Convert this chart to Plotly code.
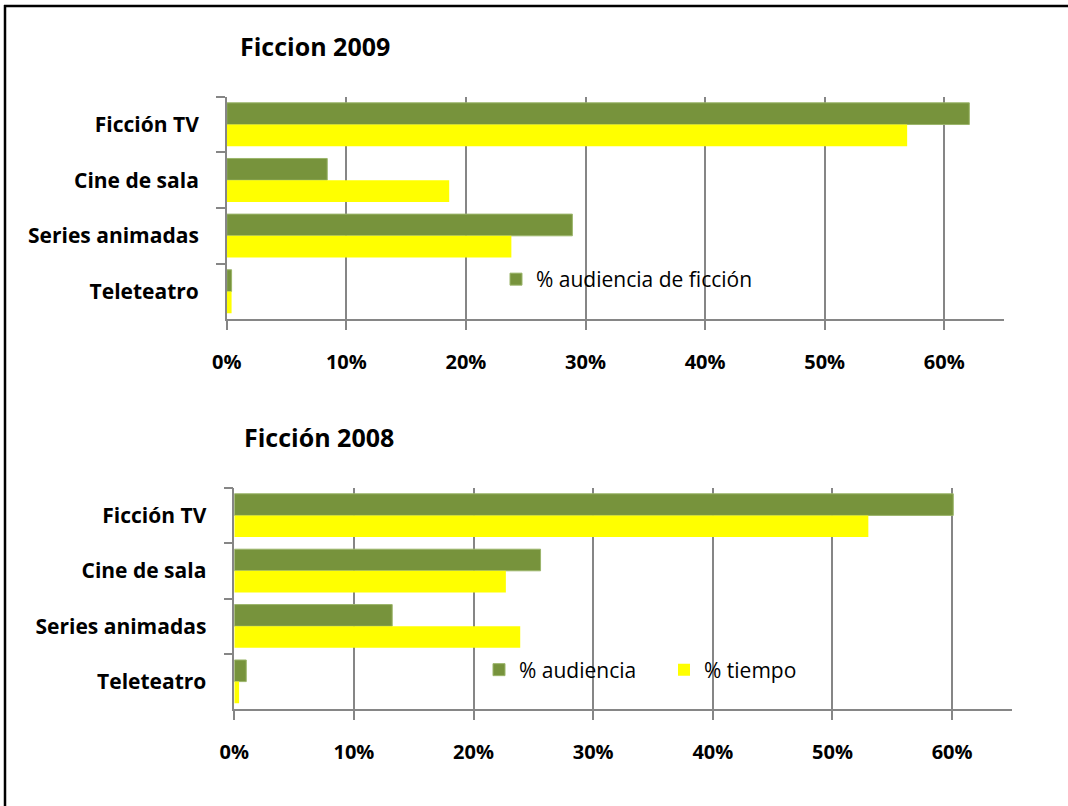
import plotly.graph_objects as go

categories = ["Ficción TV", "Cine de sala", "Series animadas", "Teleteatro"]

aud_2009 = [0.621, 0.084, 0.289, 0.004]
tiempo_2009 = [0.569, 0.186, 0.238, 0.004]

aud_2008 = [0.601, 0.256, 0.132, 0.010]
tiempo_2008 = [0.530, 0.227, 0.239, 0.004]

title_2009 = "Ficcion 2009"
title_2008 = "Ficción 2008"
name_aud_2009 = "% audiencia de ficción"
name_aud_2008 = "% audiencia"
name_tiempo = "% tiempo"

GREEN = "#77933C"
YELLOW = "#FFFF00"
GRID = "#868686"
FONT = "Open Sans"

fig = go.Figure()

fig.add_trace(go.Bar(y=categories, x=aud_2009, orientation="h", name=name_aud_2009,
                     marker=dict(color=GREEN, line=dict(color="#9bb56a", width=1)),
                     xaxis="x", yaxis="y", legend="legend"))
fig.add_trace(go.Bar(y=categories, x=tiempo_2009, orientation="h", name=name_tiempo,
                     marker=dict(color=YELLOW, line=dict(width=0)), showlegend=False,
                     xaxis="x", yaxis="y", legend="legend"))
fig.add_trace(go.Bar(y=categories, x=aud_2008, orientation="h", name=name_aud_2008,
                     marker=dict(color=GREEN, line=dict(color="#9bb56a", width=1)),
                     xaxis="x2", yaxis="y2", legend="legend2"))
fig.add_trace(go.Bar(y=categories, x=tiempo_2008, orientation="h", name=name_tiempo,
                     marker=dict(color=YELLOW, line=dict(width=0)),
                     xaxis="x2", yaxis="y2", legend="legend3"))

W, H = 1068, 806

def px_x(v):
    return v / W

def px_y(v):
    return 1 - v / H

xcommon = dict(range=[0, 0.65], dtick=0.1, tick0=0, tickformat=".0%",
               showgrid=True, gridcolor=GRID, gridwidth=1.5,
               showline=True, linecolor=GRID, linewidth=1.5,
               ticks="outside", ticklen=9, tickcolor=GRID, tickwidth=1.5,
               ticklabelstandoff=15, zeroline=False, automargin=False,
               tickfont=dict(family=FONT, size=20, color="black", weight="bold"))
ycommon = dict(type="category", categoryorder="array", categoryarray=categories,
               autorange="reversed", showgrid=False,
               showline=True, linecolor=GRID, linewidth=1.5,
               ticks="outside", ticklen=9, tickcolor=GRID, tickwidth=1.5,
               tickson="boundaries", ticklabelstandoff=22, automargin=False,
               tickfont=dict(family=FONT, size=21, color="black", weight="bold"))

legend_common = dict(xanchor="left", yanchor="middle", orientation="h",
                     bgcolor="rgba(0,0,0,0)",
                     font=dict(family=FONT, size=21, color="black"))

fig.update_layout(
    width=W, height=H,
    margin=dict(l=0, r=0, t=0, b=0),
    paper_bgcolor="white", plot_bgcolor="white",
    barmode="group", bargap=0.22, bargroupgap=0,
    font=dict(family=FONT, color="black"),
    xaxis=dict(domain=[px_x(226.8), px_x(1004)], anchor="y", **xcommon),
    yaxis=dict(domain=[px_y(319.3), px_y(96.7)], anchor="x", **ycommon),
    xaxis2=dict(domain=[px_x(234.3), px_x(1011.9)], anchor="y2", **xcommon),
    yaxis2=dict(domain=[px_y(709.3), px_y(487.7)], anchor="x2", **ycommon),
    legend=dict(x=px_x(496), y=px_y(279.5), **legend_common),
    legend2=dict(x=px_x(479), y=px_y(670), **legend_common),
    legend3=dict(x=px_x(664), y=px_y(670), **legend_common),
    annotations=[
        dict(text=title_2009, x=px_x(314.5), y=px_y(46), xref="paper", yref="paper",
             showarrow=False, xanchor="center", yanchor="middle",
             font=dict(family=FONT, size=25, color="black", weight="bold")),
        dict(text=title_2008, x=px_x(318.5), y=px_y(437), xref="paper", yref="paper",
             showarrow=False, xanchor="center", yanchor="middle",
             font=dict(family=FONT, size=25, color="black", weight="bold")),
    ],
    shapes=[
        dict(type="line", xref="paper", yref="paper", x0=px_x(4), x1=1, y0=px_y(6), y1=px_y(6),
             line=dict(color="black", width=2.5)),
        dict(type="line", xref="paper", yref="paper", x0=px_x(5), x1=px_x(5), y0=px_y(5), y1=0,
             line=dict(color="black", width=2.5)),
    ],
)

fig.write_html("out.html", config={"displayModeBar": False},
               post_script="document.body.style.margin='0';document.body.style.overflow='hidden';")
